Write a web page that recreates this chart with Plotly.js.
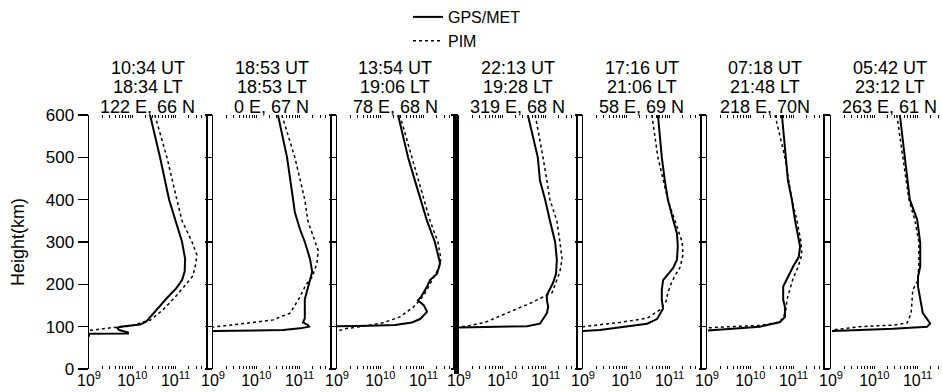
<!DOCTYPE html>
<html><head><meta charset="utf-8">
<script src="https://cdn.plot.ly/plotly-3.0.1.min.js"></script>
<style>html,body{margin:0;padding:0;background:#fff}</style>
</head><body>
<div id="chart" style="width:942px;height:392px"></div>
<script>
// ---- panel header texts ----
const panelUT  = ['10:34 UT','18:53 UT','13:54 UT','22:13 UT','17:16 UT','07:18 UT','05:42 UT'];
const panelLT  = ['18:34 LT','18:53 LT','19:06 LT','19:28 LT','21:06 LT','21:48 LT','23:12 LT'];
const panelLoc = ['122 E, 66 N','0 E, 67 N','78 E, 68 N','319 E, 68 N','58 E, 69 N','218 E, 70N','263 E, 61 N'];

// ---- axis ticks ----
const heightTicks = [0,100,200,300,400,500,600];
const densTickVals = [1e9,2e9,3e9,4e9,5e9,6e9,7e9,8e9,9e9,
                      1e10,2e10,3e10,4e10,5e10,6e10,7e10,8e10,9e10,
                      1e11,2e11,3e11,4e11,5e11];
const densTickText = ['10<sup>9</sup>','','','','','','','','',
                      '10<sup>10</sup>','','','','','','','','',
                      '10<sup>11</sup>','','','',''];

// ---- Panel 1 ----
const p1GpsH = [600,500,400,350,300,260,230,210,190,170,150,130,112,105,102,100,97,92,86,84,83,76];
const p1GpsN = [2.57e10,4.37e10,7.08e10,1.02e11,1.41e11,1.66e11,1.62e11,1.41e11,1.02e11,6.61e10,4.37e10,3.02e10,2.09e10,1.51e10,7.94e9,5.25e9,4.47e9,5.0e9,7.94e9,7.94e9,1.0e9,1.0e9];
const p1PimH = [600,500,400,350,300,270,250,220,200,170,140,115,111,101,99,95,91];
const p1PimN = [3.31e10,6.31e10,1.07e11,1.41e11,2.40e11,3.09e11,2.95e11,2.51e11,1.74e11,9.77e10,5.13e10,2.57e10,1.78e10,8.91e9,4.47e9,2.0e9,1.0e9];
// ---- Panel 2 ----
const p2GpsH = [600,500,400,370,330,300,260,230,210,185,165,140,120,110,104,100,96,92,91,90];
const p2GpsN = [3.16e10,5.13e10,7.08e10,7.76e10,1.02e11,1.32e11,1.74e11,1.95e11,1.74e11,1.48e11,1.32e11,1.32e11,1.32e11,1.20e11,1.55e11,1.66e11,1.02e11,4.17e10,7.08e9,1.0e9];
const p2PimH = [600,500,400,350,300,280,250,217,200,170,132,116,109,99];
const p2PimN = [3.89e10,7.76e10,1.32e11,1.55e11,2.29e11,2.69e11,2.51e11,1.95e11,1.41e11,1.02e11,6.03e10,2.45e10,7.08e9,1.0e9];
// ---- Panel 3 ----
const p3GpsH = [600,500,445,400,350,300,250,225,210,195,170,162,150,135,118,110,104,102,101];
const p3GpsN = [2.57e10,4.37e10,6.31e10,8.71e10,1.20e11,1.82e11,2.40e11,2.04e11,1.41e11,1.20e11,8.71e10,7.41e10,1.02e11,1.20e11,8.32e10,5.37e10,2.19e10,5.75e9,1.0e9];
const p3PimH = [600,500,400,350,300,260,240,200,175,160,146,123,109,100,95,89];
const p3PimN = [2.82e10,5.37e10,1.02e11,1.41e11,2.14e11,2.51e11,2.29e11,1.41e11,1.02e11,7.76e10,5.75e10,2.82e10,1.15e10,3.39e9,1.51e9,1.0e9];
// ---- Panel 4 ----
const p4GpsH = [600,500,445,400,350,300,258,225,203,187,175,163,147,132,118,107,101,99,98];
const p4GpsN = [3.89e10,6.61e10,7.41e10,9.77e10,1.26e11,1.66e11,1.82e11,1.74e11,1.48e11,1.26e11,1.07e11,1.07e11,1.15e11,1.07e11,8.71e10,7.41e10,3.72e10,3.02e9,1.0e9];
const p4PimH = [600,500,400,350,300,260,230,200,180,170,155,140,125,110,103,99];
const p4PimN = [5.75e10,8.71e10,1.26e11,1.82e11,2.14e11,2.40e11,2.14e11,1.66e11,1.41e11,8.71e10,4.37e10,1.95e10,8.91e9,3.98e9,1.78e9,1.0e9];
// ---- Panel 5 ----
const p5GpsH = [600,500,445,400,353,320,290,258,238,222,210,187,163,143,132,118,107,98,92,90];
const p5GpsN = [5.37e10,6.61e10,7.76e10,9.12e10,1.20e11,1.48e11,1.55e11,1.48e11,1.20e11,8.71e10,7.08e10,6.61e10,6.61e10,7.08e10,6.03e10,5.13e10,3.02e10,7.08e9,2.45e9,1.0e9];
const p5PimH = [600,500,400,350,300,270,240,220,200,180,160,140,120,110,103,100];
const p5PimN = [3.89e10,5.37e10,9.12e10,1.32e11,1.95e11,2.04e11,1.74e11,1.32e11,1.07e11,9.12e10,8.32e10,6.03e10,3.02e10,7.08e9,1.70e9,1.0e9];
// ---- Panel 6 ----
const p6GpsH = [600,500,445,400,353,290,265,242,218,195,163,147,123,111,100,94,91];
const p6GpsN = [5.37e10,6.61e10,7.41e10,9.12e10,1.07e11,1.41e11,1.32e11,9.77e10,7.41e10,5.75e10,5.75e10,6.31e10,6.31e10,4.90e10,1.66e10,3.39e9,1.05e9];
const p6PimH = [600,500,400,350,300,270,240,215,190,165,140,120,110,103,100,97];
const p6PimN = [3.72e10,6.31e10,9.12e10,1.20e11,1.48e11,1.55e11,1.26e11,9.77e10,8.32e10,7.08e10,6.61e10,5.75e10,4.37e10,1.66e10,3.39e9,1.0e9];
// ---- Panel 7 ----
const p7GpsH = [600,500,445,400,353,298,242,218,195,163,132,118,107,100,95,92,90];
const p7GpsN = [3.89e10,5.13e10,5.75e10,6.61e10,9.77e10,1.15e11,1.15e11,1.02e11,1.02e11,1.15e11,1.32e11,1.66e11,1.95e11,1.66e11,2.69e10,4.68e9,1.05e9];
const p7PimH = [600,500,400,350,300,250,210,187,160,132,109,104,100,95,92];
const p7PimN = [3.31e10,4.57e10,6.31e10,8.71e10,1.07e11,1.07e11,1.02e11,7.76e10,7.41e10,7.08e10,5.75e10,3.02e10,4.68e9,1.62e9,1.05e9];

const gpsN = [p1GpsN,p2GpsN,p3GpsN,p4GpsN,p5GpsN,p6GpsN,p7GpsN];
const gpsH = [p1GpsH,p2GpsH,p3GpsH,p4GpsH,p5GpsH,p6GpsH,p7GpsH];
const pimN = [p1PimN,p2PimN,p3PimN,p4PimN,p5PimN,p6PimN,p7PimN];
const pimH = [p1PimH,p2PimH,p3PimH,p4PimH,p5PimH,p6PimH,p7PimH];

// ---- layout geometry (pixels of the 942 px wide page) ----
const W = 942;
const panelLeft  = [89,213,337,459,583,707,831];
const panelRight = [206,330,453,576,700,823,942];
const pxPerDecade = 43.3;
const FONT = 'Liberation Sans, Arial, Helvetica, sans-serif';

const traces = [];
const layout = {
  width: 942, height: 392,
  margin: {l:0, r:0, t:115, b:23},
  paper_bgcolor: '#fff', plot_bgcolor: '#fff',
  font: {family: FONT, color: '#000', size: 16},
  showlegend: true,
  legend: {x: 408/W, xanchor: 'left', y: 1.455, yanchor: 'top', bgcolor: 'rgba(0,0,0,0)',
           font: {size: 16, family: FONT, color: '#000'}, tracegroupgap: 0, itemwidth: 30},
  annotations: [], shapes: []
};

for (let i = 0; i < 7; i++) {
  const n = i === 0 ? '' : String(i + 1);
  const xa = 'x' + n, ya = 'y' + n;
  traces.push({x: gpsN[i], y: gpsH[i], xaxis: xa, yaxis: ya, mode: 'lines', name: 'GPS/MET',
    showlegend: i === 0, line: {color: '#000', width: 2}});
  traces.push({x: pimN[i], y: pimH[i], xaxis: xa, yaxis: ya, mode: 'lines', name: 'PIM',
    showlegend: i === 0, line: {color: '#000', width: 1.5, dash: '3px,3px'}});

  const wpx = panelRight[i] - panelLeft[i];
  layout['xaxis' + n] = {
    domain: [panelLeft[i] / W, panelRight[i] / W], anchor: ya,
    type: 'log', range: [9, 9 + wpx / pxPerDecade],
    tickmode: 'array', tickvals: densTickVals, ticktext: densTickText,
    ticks: 'inside', ticklen: 3, tickwidth: 1, tickcolor: '#000', mirror: 'ticks',
    showline: false, showgrid: false, zeroline: false,
    tickfont: {size: 16, family: FONT, color: '#000'}, fixedrange: true
  };
  layout['yaxis' + n] = {
    domain: [0, 1], anchor: xa, range: [0, 600],
    tickmode: 'array', tickvals: heightTicks,
    ticks: 'outside', ticklen: i === 0 ? 10 : 7, tickwidth: 1.2, tickcolor: '#000',
    showline: true, linecolor: '#000', linewidth: 1.5, mirror: true,
    showgrid: false, zeroline: false, showticklabels: i === 0,
    tickfont: {size: 17, family: FONT, color: '#000'}, fixedrange: true
  };
  if (i === 0) {
    layout.yaxis.title = {text: 'Height(km)', font: {size: 18, family: FONT, color: '#000'}, standoff: 16};
  }
  const cx = (panelLeft[i] + (i === 6 ? 948 : panelRight[i])) / 2 / W;
  const lines = [panelUT[i], panelLT[i], panelLoc[i]];
  const ys = [1.185, 1.110, 1.031];
  lines.forEach((t, k) => layout.annotations.push({
    text: t, x: cx, y: ys[k], xref: 'paper', yref: 'paper', showarrow: false,
    xanchor: 'center', yanchor: 'middle', font: {size: 18, family: FONT, color: '#000'}
  }));
}
// thick separator between panel 3 and panel 4
layout.shapes.push({type: 'rect', xref: 'paper', yref: 'paper', x0: 454/W, x1: 459/W, y0: -0.02, y1: 1,
  fillcolor: '#000', line: {width: 0}, layer: 'above'});

Plotly.newPlot('chart', traces, layout, {displayModeBar: false, staticPlot: true});
</script>
</body></html>
